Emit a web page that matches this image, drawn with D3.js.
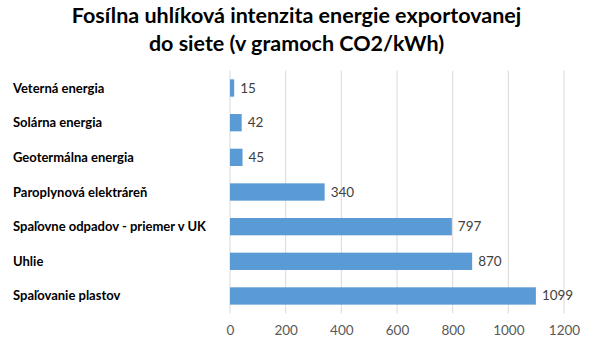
<!DOCTYPE html>
<html><head><meta charset="utf-8">
<script src="https://cdn.jsdelivr.net/npm/d3@7"></script>
<style>body{margin:0;background:#fff}svg{display:block}</style>
</head><body>
<svg id="c" width="593" height="354"></svg>
<script>
const categories = ["Veterná energia","Solárna energia","Geotermálna energia","Paroplynová elektráreň","Spaľovne odpadov - priemer v UK","Uhlie","Spaľovanie plastov"];
const values = [15,42,45,340,797,870,1099];
const ticks = [0,200,400,600,800,1000,1200];
const titleLines = ["Fosílna uhlíková intenzita energie exportovanej","do siete (v gramoch CO2/kWh)"];

const svg = d3.select("#c");
const font = "Lato, 'Open Sans', sans-serif";
const x = d3.scaleLinear().domain([0,1200]).range([230,564]);
const y = d3.scaleBand().domain(categories).range([70.7,313.3]).paddingInner(0.5).paddingOuter(0.25);

svg.append("g").selectAll("text").data(titleLines).join("text")
  .attr("x",296.5).attr("y",(d,i)=>23+i*28).attr("text-anchor","middle")
  .attr("font-family",font).attr("font-weight","bold").attr("font-size",21.5).attr("fill","#000").text(d=>d);

svg.append("g").selectAll("line").data(ticks).join("line")
  .attr("x1",d=>x(d)).attr("x2",d=>x(d)).attr("y1",70.7).attr("y2",313.3)
  .attr("stroke","#d9d9d9").attr("stroke-width",1);

const ax = d3.axisBottom(x).tickValues(ticks).tickSize(0).tickPadding(0).tickFormat(d3.format("d"));
const g = svg.append("g").attr("transform","translate(0,335)").call(ax);
g.select(".domain").remove();
g.selectAll("text").attr("font-family",font).attr("font-size",13.5).attr("fill","#595959").attr("dy",0);

svg.append("g").selectAll("rect").data(values).join("rect")
  .attr("x",x(0)).attr("y",(d,i)=>y(categories[i]))
  .attr("width",d=>x(d)-x(0)).attr("height",y.bandwidth())
  .attr("fill","#5b9bd5");

svg.append("g").selectAll("text").data(values).join("text")
  .attr("x",d=>x(d)+6).attr("y",(d,i)=>y(categories[i])+y.bandwidth()/2+4.5)
  .attr("font-family",font).attr("font-size",13.5).attr("fill","#404040").text(d=>d);

svg.append("g").selectAll("text").data(categories).join("text")
  .attr("x",13).attr("y",d=>y(d)+y.bandwidth()/2+4.5)
  .attr("font-family",font).attr("font-weight","bold").attr("font-size",13).attr("fill","#000").text(d=>d);
</script>
</body></html>
